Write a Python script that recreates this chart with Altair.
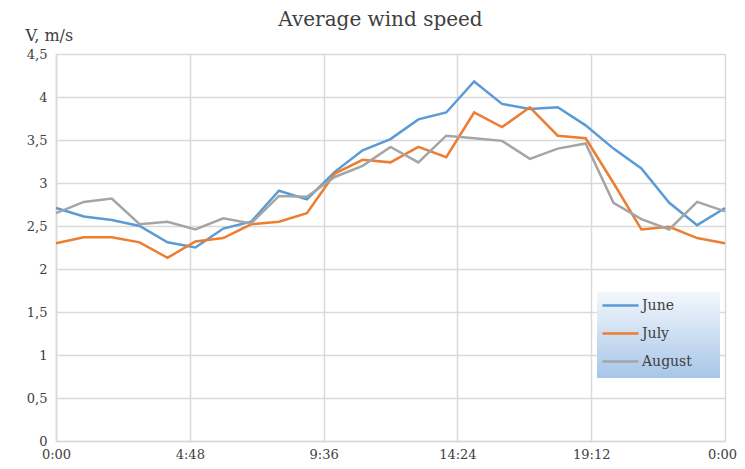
import altair as alt
import pandas as pd

hours = list(range(25))
june = [2.71, 2.61, 2.57, 2.50, 2.31, 2.25, 2.47, 2.55, 2.91, 2.81, 3.13, 3.38, 3.51,
        3.74, 3.82, 4.18, 3.92, 3.86, 3.88, 3.67, 3.40, 3.17, 2.77, 2.51, 2.71]
july = [2.30, 2.37, 2.37, 2.31, 2.13, 2.32, 2.36, 2.52, 2.55, 2.65, 3.11, 3.27, 3.24,
        3.42, 3.30, 3.82, 3.65, 3.88, 3.55, 3.52, 3.00, 2.46, 2.49, 2.36, 2.30]
august = [2.65, 2.78, 2.82, 2.52, 2.55, 2.46, 2.59, 2.53, 2.85, 2.84, 3.07, 3.20, 3.42,
          3.24, 3.55, 3.52, 3.49, 3.28, 3.40, 3.46, 2.77, 2.58, 2.46, 2.78, 2.67]
series = ["June", "July", "August"]
colors = ["#5B9BD5", "#ED7D31", "#A5A5A5"]
x_ticks = [0, 4.8, 9.6, 14.4, 19.2, 24]
x_labels = ["0:00", "4:48", "9:36", "14:24", "19:12", "0:00"]
y_ticks = [0, 0.5, 1, 1.5, 2, 2.5, 3, 3.5, 4, 4.5]

rows = []
for name, vals in zip(series, [june, july, august]):
    for h, v in zip(hours, vals):
        rows.append({"hour": h, "speed": v, "month": name})
df = pd.DataFrame(rows)

FONT = "DejaVu Serif"
label_expr = "[" + ",".join("'%s'" % l for l in x_labels) + "][round(datum.value/4.8)]"

legend_bg = alt.Chart(pd.DataFrame({"a": [0]})).mark_rect(
    fill=alt.Gradient(
        gradient="linear", x1=0, y1=0, x2=0, y2=1,
        stops=[alt.GradientStop(color="#f3f7fc", offset=0),
               alt.GradientStop(color="#a7c6e8", offset=1)]),
).encode(x=alt.value(541), x2=alt.value(664), y=alt.value(238), y2=alt.value(324))

lines = alt.Chart(df).mark_line(strokeWidth=2.5).encode(
    x=alt.X("hour:Q", scale=alt.Scale(domain=[0, 24], nice=False),
            axis=alt.Axis(values=x_ticks, labelExpr=label_expr, title=None,
                          grid=True, gridColor="#d9d9d9", gridWidth=1.5,
                          domainColor="#d9d9d9", domainWidth=1.5, ticks=False,
                          labelPadding=7, labelFont=FONT, labelFontSize=13,
                          labelOffset={"condition": {"test": "datum.value >= 24", "value": -3},
                                       "value": 0},
                          labelColor="#404040", labelFlush=False)),
    y=alt.Y("speed:Q", scale=alt.Scale(domain=[0, 4.5], nice=False),
            axis=alt.Axis(values=y_ticks,
                          labelExpr="replace(toString(datum.value), '.', ',')",
                          title="V, m/s", titleAngle=0, titleAlign="left",
                          titleBaseline="alphabetic", titleX=-31, titleY=-14,
                          titleFont=FONT, titleFontSize=16, titleFontWeight="normal",
                          titleColor="#404040",
                          grid=True, gridColor="#d9d9d9", gridWidth=1.5,
                          domainColor="#d9d9d9", domainWidth=1.5, ticks=False,
                          labelPadding=9, labelFont=FONT, labelFontSize=13,
                          labelColor="#404040")),
    color=alt.Color("month:N", sort=series,
                    scale=alt.Scale(domain=series, range=colors),
                    legend=alt.Legend(title=None, orient="none", legendX=545, legendY=232,
                                      symbolType="stroke", symbolSize=1300,
                                      symbolStrokeWidth=2.5, labelFont=FONT,
                                      labelFontSize=14, labelColor="#404040",
                                      rowPadding=1, labelOffset=2)),
    detail="month:N",
)

chart = alt.layer(legend_bg, lines).properties(
    width=669, height=387,
    title=alt.Title("Average wind speed", font=FONT, fontSize=20, fontWeight="normal",
                    color="#404040", anchor="middle", dx=-10, offset=-3),
    padding={"left": 48, "top": 46, "right": 12, "bottom": 20},
    autosize=alt.AutoSizeParams(type="none"),
).configure_view(stroke=None).configure(background="white")

chart.save("out.html", embed_options={"renderer": "svg", "actions": False})
